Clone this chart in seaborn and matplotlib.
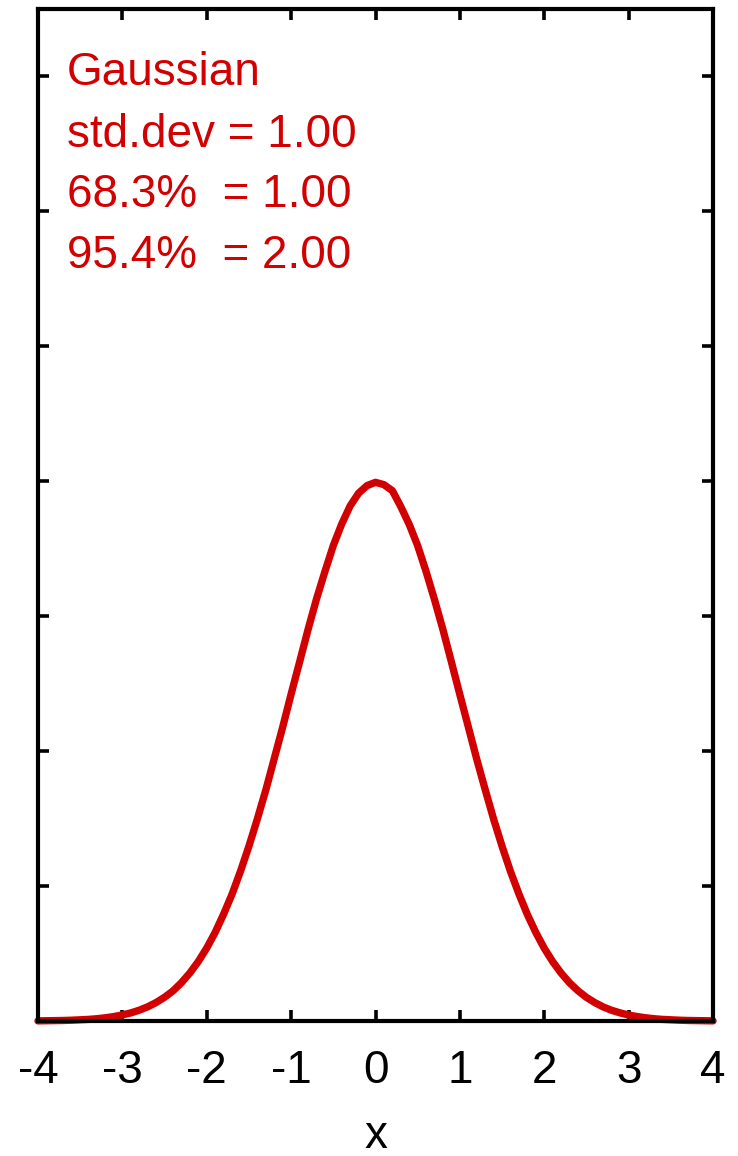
import matplotlib
matplotlib.use("Agg")
import matplotlib.pyplot as plt
import seaborn as sns
import pandas as pd

# x positions of the curve
x_vals = [round(-4 + 0.1 * i, 1) for i in range(81)]
y_vals = [
    0.0001, 0.0002, 0.0003, 0.0004, 0.0006, 0.0009, 0.0012, 0.0017, 0.0024, 0.0033,
    0.0045, 0.0060, 0.0080, 0.0105, 0.0137, 0.0176, 0.0223, 0.0284, 0.0356, 0.0441,
    0.0541, 0.0657, 0.0792, 0.0940, 0.1110, 0.1296, 0.1498, 0.1712, 0.1945, 0.2178,
    0.2423, 0.2660, 0.2900, 0.3126, 0.3330, 0.3524, 0.3684, 0.3818, 0.3912, 0.3968,
    0.3992, 0.3975, 0.3930, 0.3812, 0.3680, 0.3522, 0.3330, 0.3121, 0.2899, 0.2660,
    0.2418, 0.2180, 0.1940, 0.1715, 0.1496, 0.1295, 0.1108, 0.0941, 0.0789, 0.0656,
    0.0539, 0.0440, 0.0355, 0.0283, 0.0224, 0.0175, 0.0136, 0.0104, 0.0079, 0.0060,
    0.0044, 0.0033, 0.0024, 0.0017, 0.0012, 0.0009, 0.0006, 0.0004, 0.0003, 0.0002,
    0.0001,
]
x_ticks = [-4, -3, -2, -1, 0, 1, 2, 3, 4]
x_tick_labels = ["-4", "-3", "-2", "-1", "0", "1", "2", "3", "4"]
y_ticks = [0.0, 0.1, 0.2, 0.3, 0.4, 0.5, 0.6, 0.7]
annotation_lines = ["Gaussian", "std.dev = 1.00", "68.3%  = 1.00", "95.4%  = 2.00"]

sns.set_style("white")
plt.rcParams["font.family"] = ["Liberation Sans", "DejaVu Sans"]

RED = "#d20000"

fig = plt.figure(figsize=(7.38, 11.56), dpi=100)
ax = fig.add_axes([38 / 738, 1 - 1021 / 1156, 675 / 738, 1012 / 1156])

df = pd.DataFrame({"x": x_vals, "y": y_vals})
sns.lineplot(data=df, x="x", y="y", ax=ax, color=RED, linewidth=5.3, clip_on=False)

ax.set_xlim(-4, 4)
ax.set_ylim(0, 0.75)
ax.set_xticks(x_ticks)
ax.set_xticklabels(x_tick_labels, fontsize=33, color="black")
ax.set_yticks(y_ticks)
ax.set_yticklabels([])
ax.set_ylabel("")
ax.set_xlabel("x", fontsize=33, labelpad=15, color="black")

ax.tick_params(axis="both", direction="in", length=8, width=2.6,
               top=True, right=True, bottom=True, left=True, color="black")
ax.tick_params(axis="x", pad=20)
for s in ax.spines.values():
    s.set_linewidth(3.0)
    s.set_color("black")
    s.set_visible(True)

baselines = [85, 147, 207, 268]
for line, b in zip(annotation_lines, baselines):
    ax.text(29 / 675, (1021 - b) / 1012, line, transform=ax.transAxes,
            color=RED, fontsize=33, va="baseline", ha="left")

fig.savefig("out.png", dpi=100)
